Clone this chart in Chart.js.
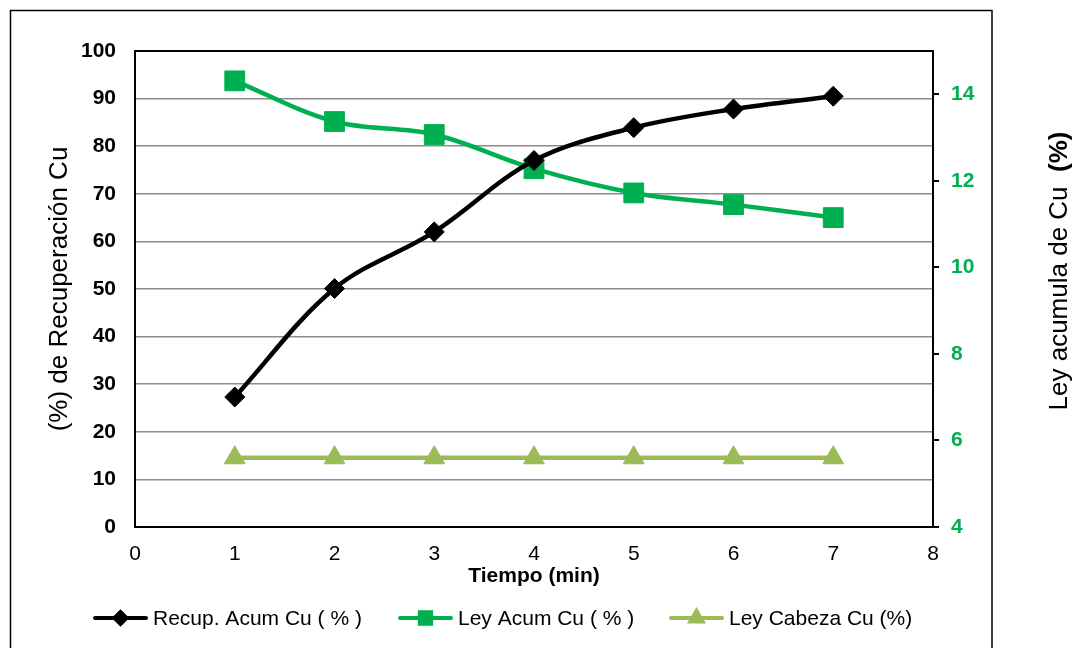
<!DOCTYPE html>
<html>
<head>
<meta charset="utf-8">
<script src="https://cdn.jsdelivr.net/npm/chart.js@4.4.1/dist/chart.umd.min.js"></script>
<style>
  html, body { margin: 0; padding: 0; background: #fff; }
  canvas { display: block; }
</style>
</head>
<body>
<canvas id="chart" width="1072" height="648"></canvas>
<script>
// tiempo de flotación (min) y resultados acumulados
const tiempo = [1, 2, 3, 4, 5, 6, 7];
const recupAcumCu = [27.3, 50.1, 62.0, 77.0, 83.9, 87.8, 90.5];
const leyAcumCu = [14.31, 13.37, 13.07, 12.28, 11.72, 11.45, 11.15];
const leyCabezaCu = [5.6, 5.6, 5.6, 5.6, 5.6, 5.6, 5.6];

const ticksTiempo = [0, 1, 2, 3, 4, 5, 6, 7, 8];
const ticksRecup = [0, 10, 20, 30, 40, 50, 60, 70, 80, 90, 100];
const ticksLey = [4, 6, 8, 10, 12, 14];

const FONT = 'Arial, "Liberation Sans", sans-serif';
const VERDE = '#00B050';
const VERDE_CLARO = '#9BBB59';

const puntos = (ys) => tiempo.map((t, i) => ({ x: t, y: ys[i] }));

// marco exterior, borde del área de trazado, título del eje derecho y leyenda
const decoracion = {
  id: 'decoracion',
  beforeDatasetsDraw(chart) {
    const { ctx, chartArea: a } = chart;
    ctx.save();
    ctx.strokeStyle = '#000';
    ctx.lineWidth = 2;
    ctx.strokeRect(a.left, a.top, a.right - a.left, a.bottom - a.top);
    ctx.restore();
  },
  afterDraw(chart) {
    const { ctx } = chart;
    ctx.save();
    ctx.strokeStyle = '#000';
    ctx.lineWidth = 1.5;
    ctx.strokeRect(10.5, 10.5, 981.5, 700);

    // título eje secundario, de abajo hacia arriba
    const t1 = 'Ley acumula de Cu  ';
    const t2 = '(%)';
    ctx.font = '26px ' + FONT;
    const w1 = ctx.measureText(t1).width;
    ctx.font = 'bold 26px ' + FONT;
    const w2 = ctx.measureText(t2).width;
    ctx.translate(1060, 271 + (w1 + w2) / 2);
    ctx.rotate(-Math.PI / 2);
    ctx.fillStyle = '#000';
    ctx.textBaseline = 'middle';
    ctx.textAlign = 'left';
    ctx.font = '26px ' + FONT;
    ctx.fillText(t1, 0, 0);
    ctx.font = 'bold 26px ' + FONT;
    ctx.fillText(t2, w1, 0);
    ctx.restore();

    // leyenda: línea con marcador al centro
    const inicios = [93, 398, 669];
    const y = 618;
    ctx.save();
    chart.data.datasets.forEach((ds, i) => {
      const x0 = inicios[i];
      ctx.strokeStyle = ds.borderColor;
      ctx.lineWidth = 4;
      ctx.lineCap = 'round';
      ctx.beginPath();
      ctx.moveTo(x0 + 2, y);
      ctx.lineTo(x0 + 53, y);
      ctx.stroke();
      ctx.fillStyle = ds.pointBackgroundColor;
      ctx.strokeStyle = ds.pointBorderColor;
      Chart.helpers.drawPoint(ctx, {
        pointStyle: ds.pointStyle,
        radius: ds.legendRadius,
        rotation: 0,
        borderWidth: 1
      }, x0 + 27.5, y);
      ctx.fillStyle = '#000';
      ctx.font = '21px ' + FONT;
      ctx.textBaseline = 'middle';
      ctx.textAlign = 'left';
      ctx.fillText(ds.label, x0 + 60, y + 1);
    });
    ctx.restore();
  }
};

new Chart(document.getElementById('chart'), {
  type: 'line',
  data: {
    datasets: [
      {
        label: 'Recup. Acum Cu ( % )',
        data: puntos(recupAcumCu),
        yAxisID: 'y',
        borderColor: '#000',
        borderWidth: 4.5,
        pointStyle: 'rectRot',
        pointRadius: 10,
        pointBackgroundColor: '#000',
        pointBorderColor: '#000',
        pointBorderWidth: 1,
        legendRadius: 6,
        tension: 0.35
      },
      {
        label: 'Ley Acum Cu ( % )',
        data: puntos(leyAcumCu),
        yAxisID: 'y1',
        borderColor: VERDE,
        borderWidth: 4.5,
        pointStyle: 'rect',
        pointRadius: 14,
        pointBackgroundColor: VERDE,
        pointBorderColor: VERDE,
        pointBorderWidth: 1,
        legendRadius: 8,
        tension: 0.35
      },
      {
        label: 'Ley Cabeza Cu (%)',
        data: puntos(leyCabezaCu),
        yAxisID: 'y1',
        borderColor: VERDE_CLARO,
        borderWidth: 4.5,
        pointStyle: 'triangle',
        pointRadius: 12,
        pointBackgroundColor: VERDE_CLARO,
        pointBorderColor: VERDE_CLARO,
        pointBorderWidth: 1,
        legendRadius: 7,
        tension: 0
      }
    ]
  },
  options: {
    responsive: false,
    animation: false,
    layout: { padding: { top: 51, left: 0, right: 0, bottom: 0 } },
    plugins: {
      legend: { display: false },
      tooltip: { enabled: false }
    },
    scales: {
      x: {
        type: 'linear',
        min: 0,
        max: 8,
        afterBuildTicks: (s) => { s.ticks = ticksTiempo.map(v => ({ value: v })); },
        afterFit: (s) => { s.height = 121; },
        grid: { display: false },
        border: { color: '#000', width: 2 },
        ticks: { color: '#000', font: { family: FONT, size: 21 }, padding: 7 },
        title: {
          display: true,
          text: 'Tiempo (min)',
          color: '#000',
          font: { family: FONT, size: 21, weight: 'bold' },
          padding: { top: 0, bottom: 59 }
        }
      },
      y: {
        position: 'left',
        min: 0,
        max: 100,
        afterBuildTicks: (s) => { s.ticks = ticksRecup.map(v => ({ value: v })); },
        afterFit: (s) => { s.width = 135; },
        grid: { color: '#8c8c8c', lineWidth: 1.5, drawTicks: false },
        border: { color: '#000', width: 2 },
        ticks: { color: '#000', font: { family: FONT, size: 21, weight: 'bold' }, padding: 19 },
        title: {
          display: true,
          text: '(%) de Recuperación Cu',
          color: '#000',
          font: { family: FONT, size: 26 },
          padding: { top: 44, bottom: 0 }
        }
      },
      y1: {
        position: 'right',
        min: 4,
        max: 15,
        afterBuildTicks: (s) => { s.ticks = ticksLey.map(v => ({ value: v })); },
        afterFit: (s) => { s.width = 139; },
        grid: { drawOnChartArea: false, drawTicks: true, tickLength: 6, color: '#000', lineWidth: 2 },
        border: { color: '#000', width: 2 },
        ticks: { color: VERDE, font: { family: FONT, size: 21, weight: 'bold' }, padding: 12 }
      }
    }
  },
  plugins: [decoracion]
});
</script>
</body>
</html>
